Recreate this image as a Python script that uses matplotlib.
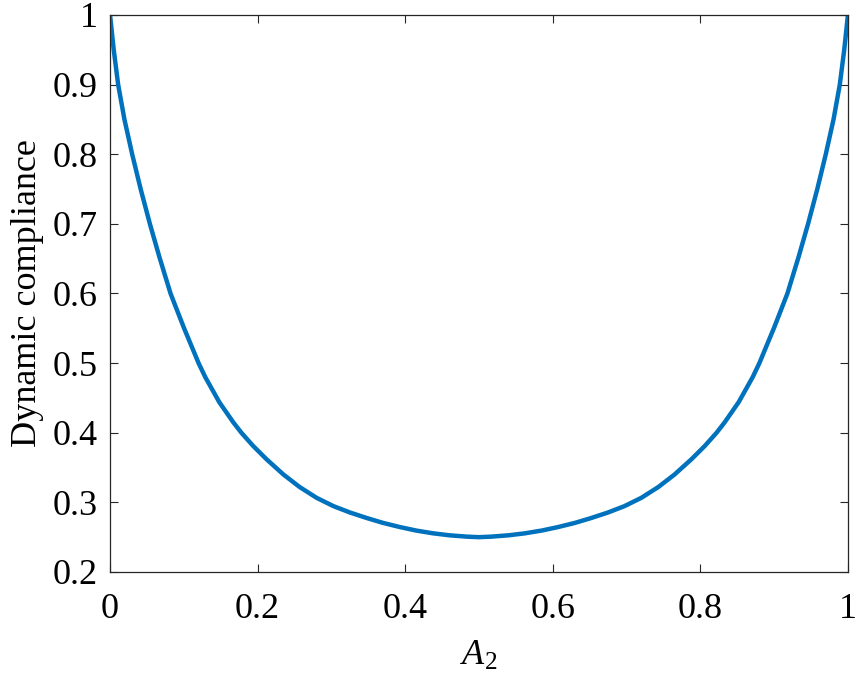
import numpy as np
import matplotlib.pyplot as plt

# curve (it is symmetric about A2 = 0.5)
a2 = [0.000, 0.005, 0.011, 0.0195, 0.030, 0.0415, 0.054, 0.067, 0.082, 0.100,
      0.120, 0.129, 0.148, 0.167, 0.178, 0.194, 0.212, 0.235, 0.257, 0.280,
      0.303, 0.325, 0.348, 0.370, 0.393, 0.415, 0.438, 0.460, 0.483, 0.500,
      0.517, 0.540, 0.562, 0.585, 0.607, 0.630, 0.652, 0.675, 0.697, 0.720,
      0.743, 0.765, 0.788, 0.806, 0.822, 0.833, 0.852, 0.871, 0.880, 0.900,
      0.918, 0.933, 0.946, 0.9585, 0.970, 0.9805, 0.989, 0.995, 1.000]
compliance = [1.000, 0.950, 0.900, 0.850, 0.800, 0.750, 0.700, 0.652, 0.600, 0.551,
              0.500, 0.480, 0.444, 0.415, 0.400, 0.381, 0.362, 0.340, 0.322, 0.3065,
              0.2945, 0.2855, 0.2775, 0.2705, 0.2645, 0.2595, 0.2555, 0.2527, 0.2508, 0.250,
              0.2508, 0.2527, 0.2555, 0.2595, 0.2645, 0.2705, 0.2775, 0.2855, 0.2945, 0.3065,
              0.322, 0.340, 0.362, 0.381, 0.400, 0.415, 0.444, 0.480, 0.500, 0.551,
              0.600, 0.652, 0.700, 0.750, 0.800, 0.850, 0.900, 0.950, 1.000]
xticks = [0, 0.2, 0.4, 0.6, 0.8, 1]
xticklabels = ['0', '0.2', '0.4', '0.6', '0.8', '1']
yticks = [0.2, 0.3, 0.4, 0.5, 0.6, 0.7, 0.8, 0.9, 1]
yticklabels = ['0.2', '0.3', '0.4', '0.5', '0.6', '0.7', '0.8', '0.9', '1']

plt.rcParams['font.family'] = 'Liberation Serif'
plt.rcParams['mathtext.fontset'] = 'custom'
plt.rcParams['mathtext.rm'] = 'Liberation Serif'
plt.rcParams['mathtext.it'] = 'Liberation Serif:italic'

fig = plt.figure(figsize=(8.57, 6.75), dpi=100)
ax = fig.add_axes([0.1284, 0.1526, 0.861, 0.8252])

ax.plot(a2, compliance, color='#0072BD', linewidth=3.2, solid_joinstyle='round')

ax.set_xlim(0, 1)
ax.set_ylim(0.2, 1)
ax.set_xticks(xticks)
ax.set_xticklabels(xticklabels)
ax.set_yticks(yticks)
ax.set_yticklabels(yticklabels)

# matlab-like box with inward ticks on all sides
ax.tick_params(direction='in', length=6, width=0.8, color='#262626',
               labelsize=26, top=True, right=True)
ax.tick_params(axis='x', pad=15)
ax.tick_params(axis='y', pad=9)
for s in ax.spines.values():
    s.set_linewidth(0.9)
    s.set_color('#262626')

ax.set_xlabel(r'$\mathit{A}_2$', fontsize=26, labelpad=10)
ax.set_ylabel('Dynamic compliance', fontsize=26, labelpad=6)

fig.savefig('out.png', dpi=100)
